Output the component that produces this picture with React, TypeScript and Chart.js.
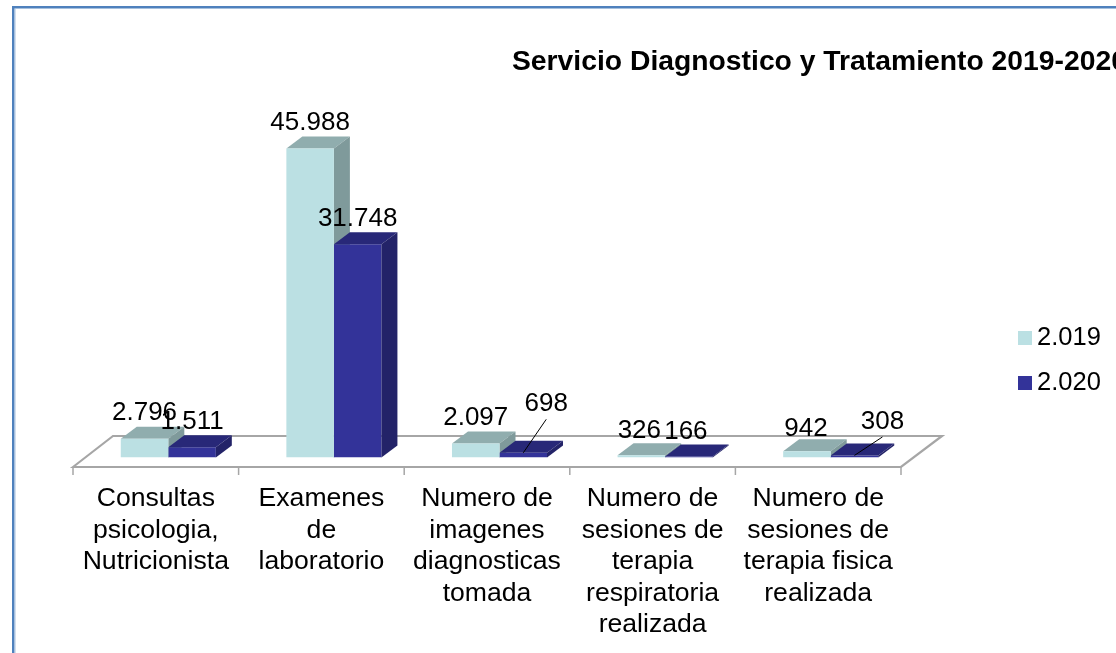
import React, { useEffect, useRef } from "react";
import { Chart, registerables } from "chart.js";

Chart.register(...registerables);

const chartTitle = "Servicio Diagnostico y Tratamiento 2019-2020";
const categories = [
  ["Consultas", "psicologia,", "Nutricionista"],
  ["Examenes", "de", "laboratorio"],
  ["Numero de", "imagenes", "diagnosticas", "tomada"],
  ["Numero de", "sesiones de", "terapia", "respiratoria", "realizada"],
  ["Numero de", "sesiones de", "terapia fisica", "realizada"],
];
const seriesNames = ["2.019", "2.020"];
const values2019 = [2796, 45988, 2097, 326, 942];
const values2020 = [1511, 31748, 698, 166, 308];

const FONT = '"Liberation Sans", Arial, sans-serif';
const fronts = ["#BBE0E3", "#333399"];
const tops = ["#90ADAE", "#282878"];
const sides = ["#7F9A9B", "#232368"];
const DEPTH_X = 16;
const DEPTH_Y = 12;
const SHIFT = 12.5;

// label displacement from the default spot, [dx, dy] per dataset and category
const labelShift = [
  [[0, 0], [0, 0], [0, 0], [-2, 1], [-1, 3]],
  [[0, 0], [0, 0], [23, -23], [-3, 1], [28, -8]],
];
const leaderLines = [
  [1, 2],
  [1, 4],
];

function poly(ctx: CanvasRenderingContext2D, pts: number[][], fill: string) {
  ctx.fillStyle = fill;
  ctx.beginPath();
  pts.forEach((p, i) => (i ? ctx.lineTo(p[0], p[1]) : ctx.moveTo(p[0], p[1])));
  ctx.closePath();
  ctx.fill();
}

function draw3d(chart: any, ds: number) {
  const ctx = chart.ctx;
  chart.getDatasetMeta(ds).data.forEach((el: any) => {
    const x0 = el.x - el.width / 2;
    const x1 = el.x + el.width / 2;
    poly(ctx, [[x0, el.y], [x0 + DEPTH_X, el.y - DEPTH_Y], [x1 + DEPTH_X, el.y - DEPTH_Y], [x1, el.y]], tops[ds]);
    poly(ctx, [[x1, el.y], [x1 + DEPTH_X, el.y - DEPTH_Y], [x1 + DEPTH_X, el.base - DEPTH_Y], [x1, el.base]], sides[ds]);
  });
}

const decor = {
  id: "decor",
  beforeDraw(chart: any) {
    const ctx = chart.ctx;
    ctx.save();
    ctx.fillStyle = "#fff";
    ctx.fillRect(0, 0, chart.width, chart.height);
    ctx.fillStyle = "#4F81BD";
    ctx.fillRect(12, 6, chart.width, 2.5);
    ctx.fillRect(12, 6, 2.5, chart.height);
    ctx.fillStyle = "#A7C0DE";
    ctx.fillRect(14.5, 8.5, 1, chart.height);
    ctx.restore();
  },
  beforeDatasetsDraw(chart: any) {
    const ctx = chart.ctx;
    const { left, right } = chart.chartArea;
    const y0 = chart.scales.y.getPixelForValue(0);
    const front = y0 + 9.5;
    const back = y0 - 21.5;
    ctx.save();
    ctx.strokeStyle = "#A6A6A6";
    ctx.lineWidth = 2.2;
    ctx.beginPath();
    ctx.moveTo(left, front);
    ctx.lineTo(left + 40, back);
    ctx.lineTo(right + 41, back);
    ctx.lineTo(right, front);
    ctx.closePath();
    ctx.stroke();
    const step = (right - left) / categories.length;
    ctx.lineWidth = 1.5;
    ctx.beginPath();
    for (let i = 0; i <= categories.length; i++) {
      ctx.moveTo(left + i * step, front);
      ctx.lineTo(left + i * step, front + 8);
    }
    ctx.stroke();
    ctx.restore();
    ctx.save();
    ctx.translate(SHIFT, 0);
  },
  beforeDatasetDraw(chart: any, args: any) {
    // dataset 1 is painted first: the 2019 block's faces go beneath it
    if (args.index === 1) draw3d(chart, 0);
  },
  afterDatasetDraw(chart: any, args: any) {
    if (args.index === 1) draw3d(chart, 1);
  },
  afterDatasetsDraw(chart: any) {
    const ctx = chart.ctx;
    ctx.restore();
    ctx.save();
    ctx.fillStyle = "#000";
    ctx.textAlign = "center";
    ctx.textBaseline = "middle";
    ctx.font = `26px ${FONT}`;
    chart.data.datasets.forEach((d: any, ds: number) => {
      chart.getDatasetMeta(ds).data.forEach((el: any, i: number) => {
        const [dx, dy] = labelShift[ds][i];
        ctx.fillText(d.data[i].toLocaleString("de-DE"), el.x + SHIFT + dx, el.y - 25.5 + dy);
      });
    });
    ctx.strokeStyle = "#000";
    ctx.lineWidth = 1;
    leaderLines.forEach(([ds, i]) => {
      const el = chart.getDatasetMeta(ds).data[i];
      const [dx, dy] = labelShift[ds][i];
      ctx.beginPath();
      ctx.moveTo(el.x + SHIFT, el.y);
      ctx.lineTo(el.x + SHIFT + dx, el.y - 25.5 + dy + 15);
      ctx.stroke();
    });
    ctx.textAlign = "left";
    ctx.font = `bold 28.3px ${FONT}`;
    ctx.fillText(chartTitle, 512, 62);
    ctx.font = `25.5px ${FONT}`;
    seriesNames.forEach((name, k) => {
      const y = 338 + k * 45;
      ctx.fillStyle = fronts[k];
      ctx.fillRect(1018, y - 7, 14, 14);
      ctx.fillStyle = "#000";
      ctx.fillText(name, 1037, y);
    });
    ctx.restore();
  },
};

export default function App() {
  const ref = useRef<HTMLCanvasElement>(null);
  useEffect(() => {
    const chart = new Chart(ref.current as HTMLCanvasElement, {
      type: "bar",
      data: {
        labels: categories as any,
        datasets: [
          { label: seriesNames[0], data: values2019, backgroundColor: fronts[0] },
          { label: seriesNames[1], data: values2020, backgroundColor: fronts[1] },
        ],
      },
      options: {
        responsive: false,
        animation: false,
        layout: { padding: { left: 73, right: 215, top: 121.5, bottom: 0 } },
        plugins: { legend: { display: false }, title: { display: false }, tooltip: { enabled: false } },
        datasets: { bar: { categoryPercentage: 0.574, barPercentage: 1 } },
        scales: {
          x: {
            grid: { display: false },
            border: { display: false },
            afterFit: (s: any) => {
              s.height = 195.5;
            },
            ticks: {
              autoSkip: false,
              maxRotation: 0,
              minRotation: 0,
              padding: 17.5,
              color: "#000",
              font: { family: FONT, size: 26.6, lineHeight: 31.5 / 26.6 },
            },
          },
          y: { display: false, min: 0, max: 50000 },
        },
      } as any,
      plugins: [decor],
    });
    return () => chart.destroy();
  }, []);
  return (
    <div style={{ position: "absolute", left: 0, top: 0, width: 1116, height: 653, overflow: "hidden" }}>
      <canvas ref={ref} width={1116} height={653} style={{ display: "block" }} />
    </div>
  );
}
